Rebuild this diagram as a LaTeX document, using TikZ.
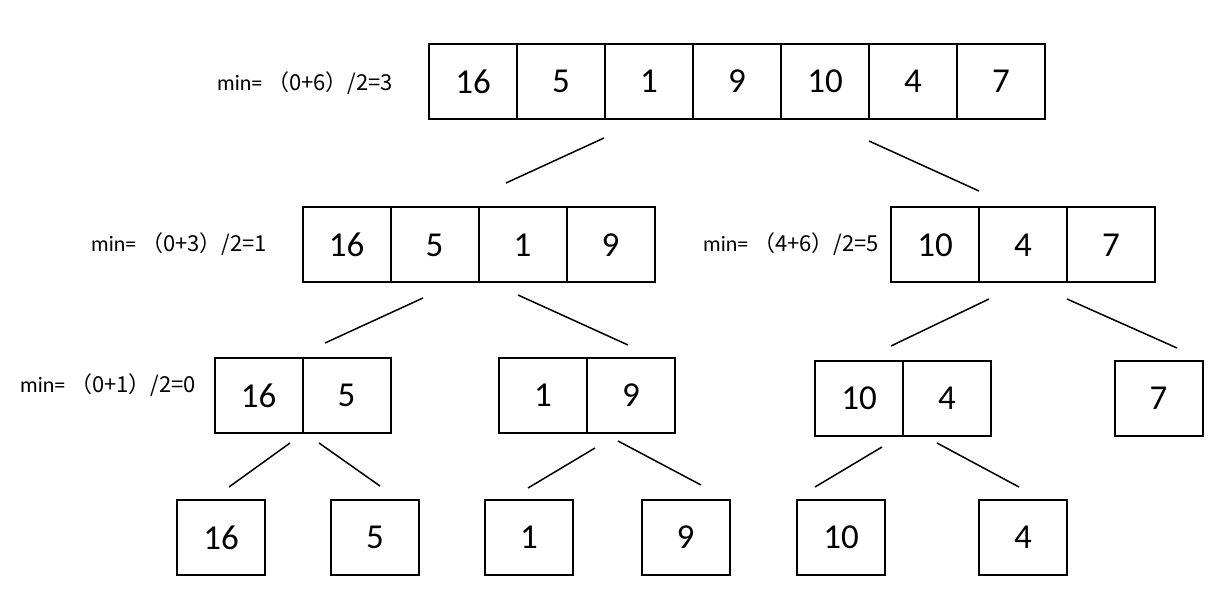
\documentclass[tikz,border=0pt]{standalone}
\usepackage{fontspec}
\setmainfont{Carlito}
\newfontfamily\cjk{Noto Sans CJK SC}
\begin{document}
\begin{tikzpicture}[x=1pt,y=-1pt,
  cell/.style={draw, line width=2pt, minimum width=88pt, minimum height=75pt, inner sep=0pt, font=\fontsize{35}{40}\selectfont},
  lbl/.style={anchor=base west, inner sep=0pt, font=\fontsize{22}{26}\selectfont},
  link/.style={line width=1.5pt}]
\useasboundingbox (0,0) rectangle (1219,604);
\fill[white] (0,0) rectangle (1219,604);
% top row
\node[cell] (a1) at (473,81.5) {16};
\node[cell] (a2) at (561,81.5) {5};
\node[cell] (a3) at (649,81.5) {1};
\node[cell] (a4) at (737,81.5) {9};
\node[cell] (a5) at (825,81.5) {10};
\node[cell] (a6) at (913,81.5) {4};
\node[cell] (a7) at (1001,81.5) {7};
\node[lbl] (la) at (217,91) {min= \cjk{（}0+6\cjk{）}/2=3};
% level 2
\node[cell] (b1) at (346.5,245) {16};
\node[cell] (b2) at (434.5,245) {5};
\node[cell] (b3) at (522.5,245) {1};
\node[cell] (b4) at (610.5,245) {9};
\node[lbl] (lb) at (91,252) {min= \cjk{（}0+3\cjk{）}/2=1};
\node[cell] (c1) at (935,245) {10};
\node[cell] (c2) at (1023,245) {4};
\node[cell] (c3) at (1111,245) {7};
\node[lbl] (lc) at (703,252) {min= \cjk{（}4+6\cjk{）}/2=5};
% level 3
\node[cell] (d1) at (258.5,395.5) {16};
\node[cell] (d2) at (346.5,395.5) {5};
\node[lbl] (ld) at (20,392) {min= \cjk{（}0+1\cjk{）}/2=0};
\node[cell] (e1) at (543,395.5) {1};
\node[cell] (e2) at (631,395.5) {9};
\node[cell] (f1) at (859,398.5) {10};
\node[cell] (f2) at (947,398.5) {4};
\node[cell] (g1) at (1158.5,398.5) {7};
% level 4
\node[cell] (h1) at (221,537.5) {16};
\node[cell] (h2) at (375,537.5) {5};
\node[cell] (h3) at (529,537.5) {1};
\node[cell] (h4) at (685.5,537.5) {9};
\node[cell] (h5) at (841,537.5) {10};
\node[cell] (h6) at (1023,537.5) {4};
% connector end points
\coordinate (p1a) at (604,138); \coordinate (p1b) at (506,183);
\coordinate (p2a) at (869,141); \coordinate (p2b) at (979,191);
\coordinate (p3a) at (423,298); \coordinate (p3b) at (325,343);
\coordinate (p4a) at (518,295); \coordinate (p4b) at (628,345);
\coordinate (p5a) at (989,299); \coordinate (p5b) at (891,346);
\coordinate (p6a) at (1067,299); \coordinate (p6b) at (1177,348);
\coordinate (p7a) at (290,443); \coordinate (p7b) at (229,487);
\coordinate (p8a) at (319,443); \coordinate (p8b) at (380,486);
\coordinate (p9a) at (595,448); \coordinate (p9b) at (528,488);
\coordinate (p10a) at (618,441); \coordinate (p10b) at (701,485);
\coordinate (p11a) at (882,447); \coordinate (p11b) at (815,487);
\coordinate (p12a) at (937,443); \coordinate (p12b) at (1019,487);
\foreach \i in {1,...,12} \draw[link] (p\i a) -- (p\i b);
\end{tikzpicture}
\end{document}
